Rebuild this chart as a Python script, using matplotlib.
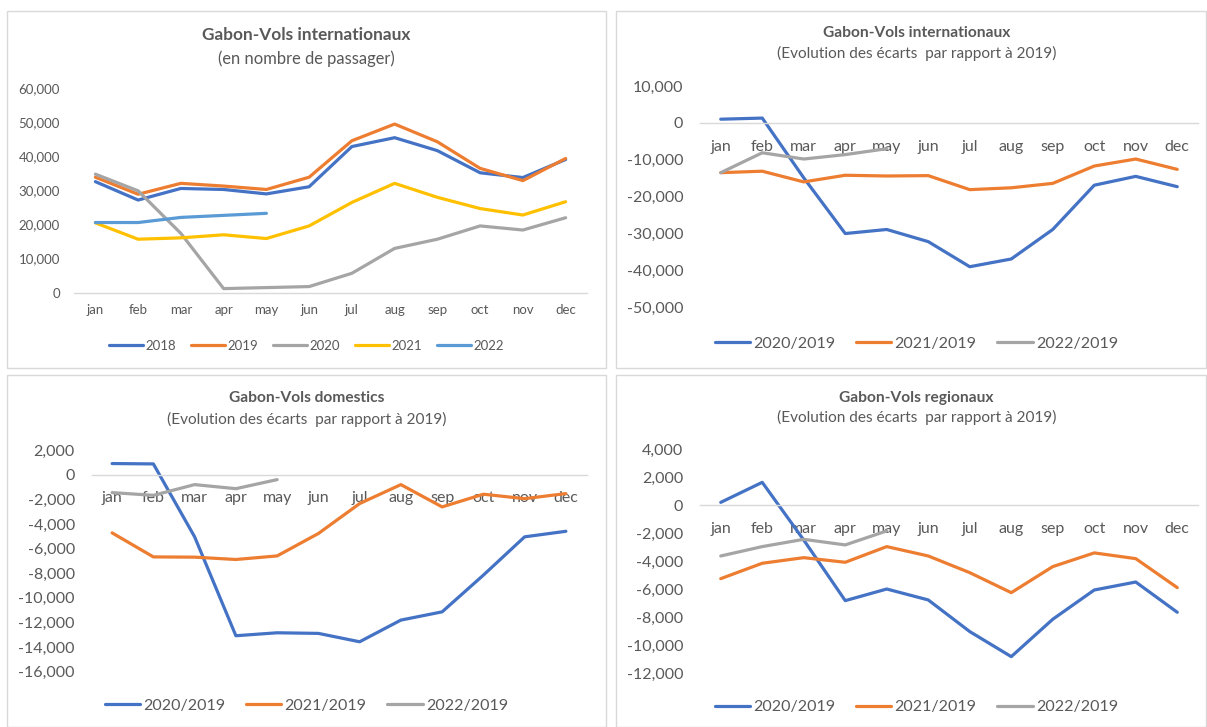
import matplotlib
matplotlib.use('Agg')
import matplotlib.pyplot as plt
from matplotlib.patches import Rectangle
from matplotlib.ticker import FuncFormatter, FixedLocator

plt.rcParams['font.family'] = ['Lato', 'DejaVu Sans']

# ---- donnees ----
mois = ['jan', 'feb', 'mar', 'apr', 'may', 'jun', 'jul', 'aug', 'sep', 'oct', 'nov', 'dec']

inter_2018 = [32600, 27200, 30600, 30300, 29000, 31100, 42900, 45500, 41700, 35200, 33800, 39100]
inter_2019 = [33900, 28900, 32100, 31300, 30300, 33900, 44600, 49500, 44300, 36500, 32900, 39400]
inter_2020 = [34800, 29900, 17400, 1200, 1500, 1800, 5700, 13000, 15700, 19600, 18400, 22000]
inter_2021 = [20500, 15700, 16100, 17000, 15900, 19600, 26500, 32100, 28000, 24700, 22800, 26700]
inter_2022 = [20600, 20600, 22100, 22700, 23300]

ecart_inter_2020 = [1000, 1300, -14900, -30000, -28900, -32200, -39000, -36900, -28900, -16900, -14500, -17300]
ecart_inter_2021 = [-13500, -13100, -16000, -14200, -14400, -14300, -18100, -17600, -16400, -11700, -9800, -12600]
ecart_inter_2022 = [-13500, -8100, -9800, -8600, -7000]

ecart_dom_2020 = [900, 870, -5050, -13080, -12840, -12890, -13570, -11810, -11140, -8160, -5050, -4600]
ecart_dom_2021 = [-4730, -6680, -6700, -6890, -6600, -4780, -2350, -810, -2620, -1590, -1950, -1540]
ecart_dom_2022 = [-1460, -1680, -810, -1140, -405]

ecart_reg_2020 = [210, 1640, -2480, -6810, -5980, -6760, -9020, -10810, -8140, -6050, -5480, -7640]
ecart_reg_2021 = [-5240, -4140, -3740, -4070, -2950, -3620, -4810, -6240, -4380, -3400, -3810, -5880]
ecart_reg_2022 = [-3620, -2950, -2430, -2830, -1830]

BLEU = '#4472C4'
ORANGE = '#ED7D31'
GRIS = '#A5A5A5'
JAUNE = '#FFC000'
BLEU_CLAIR = '#5B9BD5'
TEXTE = '#595959'
BORD = '#D9D9D9'

W, H = 1207, 727
fig = plt.figure(figsize=(W / 100, H / 100), dpi=100)


def fx(x):
    return x / W


def fy(y):
    return 1 - y / H


def cadre(x0, y0, x1, y1):
    fig.patches.append(Rectangle((fx(x0), fy(y1)), fx(x1 - x0), (y1 - y0) / H,
                                 transform=fig.transFigure, fill=False,
                                 edgecolor=BORD, lw=1.0))


def panneau(box, ylim, yticks, series, noms, couleurs, titre, sous_titre,
            cx, ty, sy, ly, tick_fs, titre_fs, sous_fs, leg_fs, xpad, ypad,
            zero_axis, hlen, colsp):
    x0, y0, x1, y1 = box
    ax = fig.add_axes([fx(x0), fy(y1), fx(x1 - x0), (y1 - y0) / H])
    for vals, nom, c in zip(series, noms, couleurs):
        ax.plot(range(len(vals)), vals, color=c, lw=2.3, label=nom,
                solid_capstyle='round', solid_joinstyle='round')
    ax.set_xlim(-0.5, 11.5)
    ax.set_ylim(*ylim)
    ax.yaxis.set_major_locator(FixedLocator(yticks))
    ax.yaxis.set_major_formatter(FuncFormatter(lambda v, p: f"{v:,.0f}"))
    ax.set_xticks(range(12))
    ax.set_xticklabels(mois)
    for s in ['top', 'right', 'left']:
        ax.spines[s].set_visible(False)
    ax.spines['bottom'].set_color(BORD)
    ax.spines['bottom'].set_linewidth(1.0)
    if zero_axis:
        ax.spines['bottom'].set_position(('data', 0))
    ax.tick_params(axis='x', length=0, pad=xpad, labelsize=tick_fs, labelcolor=TEXTE)
    ax.tick_params(axis='y', length=0, pad=ypad, labelsize=tick_fs, labelcolor=TEXTE)
    ax.patch.set_alpha(0)
    fig.text(fx(cx), fy(ty), titre, ha='center', va='center', fontsize=titre_fs,
             fontweight='bold', color=TEXTE)
    fig.text(fx(cx), fy(sy), sous_titre, ha='center', va='center', fontsize=sous_fs,
             color=TEXTE)
    fig.legend(*ax.get_legend_handles_labels(), loc='center', ncol=len(noms),
               bbox_to_anchor=(fx(cx), fy(ly)), frameon=False, fontsize=leg_fs,
               labelcolor=TEXTE, handlelength=hlen, handletextpad=0.2,
               columnspacing=colsp)
    return ax


cadre(7, 11, 606, 368)
cadre(616, 11, 1206, 368)
cadre(7, 375, 606, 727)
cadre(616, 375, 1206, 727)

panneau((74, 88.3, 587, 292.7), (0, 60000), range(0, 60001, 10000),
        [inter_2018, inter_2019, inter_2020, inter_2021, inter_2022],
        ['2018', '2019', '2020', '2021', '2022'],
        [BLEU, ORANGE, GRIS, JAUNE, BLEU_CLAIR],
        'Gabon-Vols internationaux', '(en nombre de passager)',
        306.5, 35, 58.3, 345.5, 9.5, 12.4, 11.9, 9.5, 8, 10, False, 2.6, 1.1)

panneau((700, 86, 1198, 307.3), (-50000, 10000), range(-50000, 10001, 10000),
        [ecart_inter_2020, ecart_inter_2021, ecart_inter_2022],
        ['2020/2019', '2021/2019', '2022/2019'],
        [BLEU, ORANGE, GRIS],
        'Gabon-Vols internationaux', '(Evolution des écarts  par rapport à 2019)',
        916.5, 33.3, 53.3, 343.5, 11.5, 11.2, 11.1, 11.5, 12, 12, True, 2.2, 1.3)

panneau((91.5, 450, 586.5, 671.7), (-16000, 2000), range(-16000, 2001, 2000),
        [ecart_dom_2020, ecart_dom_2021, ecart_dom_2022],
        ['2020/2019', '2021/2019', '2022/2019'],
        [BLEU, ORANGE, GRIS],
        'Gabon-Vols domestics', '(Evolution des écarts  par rapport à 2019)',
        306.5, 398.3, 419, 706, 11.5, 11.2, 11.1, 11.5, 12, 12, True, 2.2, 1.3)

panneau((700, 449.3, 1198, 673.3), (-12000, 4000), range(-12000, 4001, 2000),
        [ecart_reg_2020, ecart_reg_2021, ecart_reg_2022],
        ['2020/2019', '2021/2019', '2022/2019'],
        [BLEU, ORANGE, GRIS],
        'Gabon-Vols regionaux', '(Evolution des écarts  par rapport à 2019)',
        916.5, 397.7, 417.7, 707, 11.5, 11.2, 11.1, 11.5, 12, 12, True, 2.2, 1.3)

fig.savefig('out.png', dpi=100, facecolor='white')
